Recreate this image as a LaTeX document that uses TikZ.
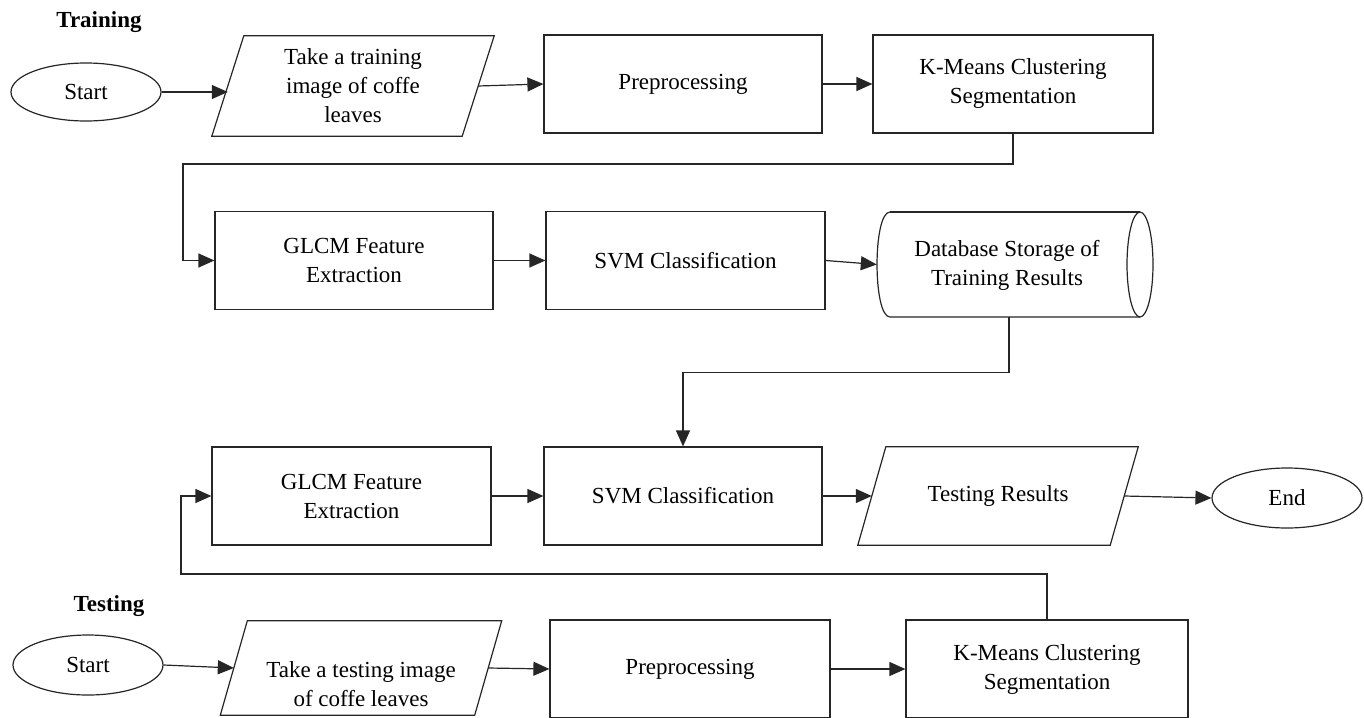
\documentclass[tikz,border=0pt]{standalone}
\usepackage{fontspec}
\setmainfont{Liberation Serif}
\usetikzlibrary{arrows.meta,shapes.geometric}
\newcommand\myfs{\fontsize{23}{29}\selectfont}
\begin{document}
\begin{tikzpicture}[x=1pt,y=-1pt,
  line/.style={draw=black!85, line width=1.2pt},
  arr/.style={line, -{Triangle[length=16pt,width=14pt]}},
  box/.style={line, rectangle, minimum width=278pt, minimum height=98pt, inner sep=0pt, align=center, font=\myfs},
  para/.style={rectangle, minimum height=98pt, inner sep=0pt, align=center, font=\myfs},
  term/.style={line, ellipse, minimum width=150pt, minimum height=58pt, inner sep=0pt, font=\myfs},
  title/.style={font=\fontsize{23}{28}\selectfont\bfseries}]
\useasboundingbox (0,0) rectangle (1364,717);
\fill[white] (0,0) rectangle (1364,717);

% titles
\node[title] (ttrain) at (99,22) {Training};
\node[title] (ttest) at (109,606) {Testing};

% row 1
\node[term] (start1) at (86,92) {Start};
\node[para, minimum width=250pt, minimum height=100pt] (p1) at (353,86) {Take a training\\image of coffe\\leaves};
\draw[line] ([xshift=16pt]p1.north west) -- ([xshift=16pt]p1.north east) -- ([xshift=-16pt]p1.south east) -- ([xshift=-16pt]p1.south west) -- cycle;
\node[box] (prep1) at (683,84) {Preprocessing};
\node[box, minimum width=280pt] (km1) at (1013,84) {K-Means Clustering\\Segmentation};

% row 2
\node[box] (glcm1) at (354,260.5) {GLCM Feature\\Extraction};
\node[box, minimum width=279pt] (svm1) at (685.5,260.5) {SVM Classification};
\node[rectangle, minimum width=276pt, minimum height=105pt, inner sep=0pt] (db) at (1015,264.5) {};
\draw[line] (890,212) -- (1140,212);
\draw[line] (1140,264.5) ellipse [x radius=13, y radius=52.5];
\draw[line] (1140,317) -- (890,317) .. controls (872.7,317) and (872.7,212) .. (890,212);
\node[align=center, font=\myfs] (dbtxt) at (1007,265) {Database Storage of\\Training Results};

% row 3
\node[box, minimum width=279pt] (glcm2) at (351.5,496) {GLCM Feature\\Extraction};
\node[box] (svm2) at (683,496) {SVM Classification};
\node[para, minimum width=252pt] (tr) at (998,496) {Testing Results};
\draw[line] ([xshift=14pt]tr.north west) -- ([xshift=14pt]tr.north east) -- ([xshift=-14pt]tr.south east) -- ([xshift=-14pt]tr.south west) -- cycle;
\node[term, minimum height=60pt] (end) at (1287,498) {End};

% row 4
\node[term, minimum height=60pt] (start2) at (88,665) {Start};
\node[para, minimum width=254pt, minimum height=94pt] (p2) at (361,668) {};
\draw[line] ([xshift=13.5pt]p2.north west) -- ([xshift=13.5pt]p2.north east) -- ([xshift=-13.5pt]p2.south east) -- ([xshift=-13.5pt]p2.south west) -- cycle;
\node[align=center, font=\myfs] (p2txt) at (361,684) {Take a testing image\\of coffe leaves};
\node[box, minimum width=280pt] (prep2) at (690,669) {Preprocessing};
\node[box, minimum width=282pt] (km2) at (1047,669) {K-Means Clustering\\Segmentation};

% connectors
\coordinate (k1) at (183,164);
\coordinate (k2) at (181,574);
\draw[arr] (start1.east) -- (start1.east -| p1.west);
\draw[arr] (p1.east) -- (prep1.west);
\draw[arr] (prep1.east) -- (km1.west);
\draw[arr] (km1.south) |- (k1) |- (glcm1.west);
\draw[arr] (glcm1.east) -- (svm1.west);
\draw[arr] (svm1.east) -- (db.west);
\draw[arr] ([xshift=-6pt]db.south) -- ++(0,55) -| (svm2.north);
\draw[arr] (glcm2.east) -- (svm2.west);
\draw[arr] (svm2.east) -- (tr.west);
\draw[arr] (tr.east) -- (end.west);
\draw[arr] (start2.east) -- (p2.west);
\draw[arr] (p2.east) -- (prep2.west);
\draw[arr] (prep2.east) -- (km2.west);
\draw[arr] (km2.north) |- (k2) |- (glcm2.west);
\end{tikzpicture}
\end{document}
